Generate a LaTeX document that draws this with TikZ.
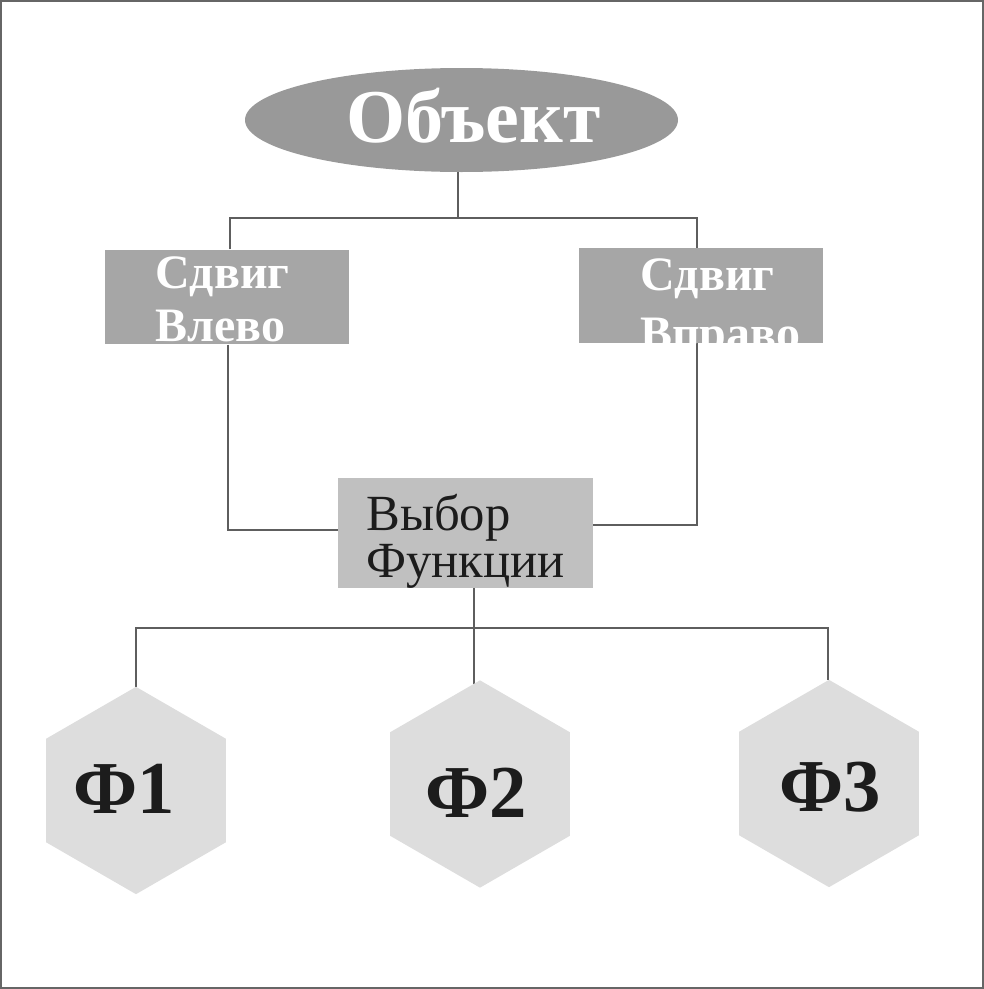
\documentclass[tikz,border=0pt]{standalone}
\usepackage{fontspec}
\setmainfont{Liberation Serif}
\usetikzlibrary{shapes.geometric}
\definecolor{ellgray}{HTML}{999999}
\definecolor{boxgray}{HTML}{A6A6A6}
\definecolor{selgray}{HTML}{C0C0C0}
\definecolor{hexgray}{HTML}{DDDDDD}
\definecolor{linegray}{HTML}{5E5E5E}
\definecolor{ink}{HTML}{1C1C1C}
\pgfdeclarelayer{background}
\pgfsetlayers{background,main}
\tikzset{
  conn/.style={draw=linegray, line width=0.8pt},
  shiftbox/.style={rectangle, fill=boxgray, inner sep=0pt, minimum width=183pt, minimum height=71pt},
  selbox/.style={rectangle, fill=selgray, inner sep=0pt, minimum width=191.25pt, minimum height=82.5pt},
  hexnode/.style={regular polygon, regular polygon sides=6, shape border rotate=30, fill=hexgray, inner sep=0pt, minimum size=155.5pt},
  objtext/.style={inner sep=0pt, anchor=base, text=white, font=\fontsize{57}{57}\selectfont\bfseries},
  shifttext/.style={inner sep=0pt, anchor=base west, text=white, font=\fontsize{36}{36}\selectfont\bfseries},
  seltext/.style={inner sep=0pt, anchor=base west, text=ink, font=\fontsize{38}{38}\selectfont},
  hextext/.style={inner sep=0pt, anchor=base, text=ink, font=\fontsize{56}{56}\selectfont\bfseries},
}
\begin{document}
\begin{tikzpicture}[x=0.75pt, y=-0.75pt]
\useasboundingbox (0,0) rectangle (984,989);
\draw[draw=gray!80!black, line width=1.1pt] (0.8,0.8) rectangle (983.2,988.2);

% shapes
\node[ellipse, fill=ellgray, inner sep=0pt, minimum width=324.75pt, minimum height=78pt] (obj) at (461.5,120) {};
\node[shiftbox] (bl) at (227,297) {};
\node[shiftbox] (br) at (701,295.5) {};
\node[selbox] (sel) at (465.5,533) {};
\node[hexnode] (h1) at (136,790.5) {};
\node[hexnode] (h2) at (480,784) {};
\node[hexnode] (h3) at (829,783.5) {};

% texts
\node[objtext] (tobj) at (473.5,142) {Объект};
\begin{scope}
  \clip (bl.south west) rectangle (bl.north east);
  \node[shifttext] (tl1) at (155,288) {Сдвиг};
  \node[shifttext] (tl2) at (155,341) {Влево};
\end{scope}
\begin{scope}
  \clip (br.south west) rectangle (br.north east);
  \node[shifttext] (tr1) at (640,290) {Сдвиг};
  \node[shifttext] (tr2) at (640,349) {Вправо};
\end{scope}
\node[seltext] (ts1) at (366,530) {Выбор};
\node[seltext] (ts2) at (366,577) {Функции};
\node[hextext] (th1) at (124.5,813) {Ф1};
\node[hextext] (th2) at (476,817) {Ф2};
\node[hextext] (th3) at (830,811) {Ф3};

% junction points
\coordinate (jt) at (458,218);
\coordinate (jl) at (230,218);
\coordinate (jr) at (697,218);
\coordinate (ll) at (228,530);
\coordinate (rr) at (697,525);
\coordinate (jb) at (474,628);
\coordinate (j1) at (136,628);
\coordinate (j3) at (828,628);
\coordinate (c2) at (474,692);

\begin{pgfonlayer}{background}
  \draw[conn] (obj.south -| jt) -- (jt);
  \draw[conn] (jl |- bl.north) -- (jl) -- (jr) -- (jr |- br.north);
  \draw[conn] (bl.south -| ll) -- (ll) -- (ll -| sel.west);
  \draw[conn] (br.south -| rr) -- (rr) -- (rr -| sel.east);
  \draw[conn] (sel.south -| jb) -- (c2);
  \draw[conn] (j1 |- h1.north) -- (j1) -- (j3) -- (j3 |- h3.north);
\end{pgfonlayer}
\end{tikzpicture}
\end{document}
